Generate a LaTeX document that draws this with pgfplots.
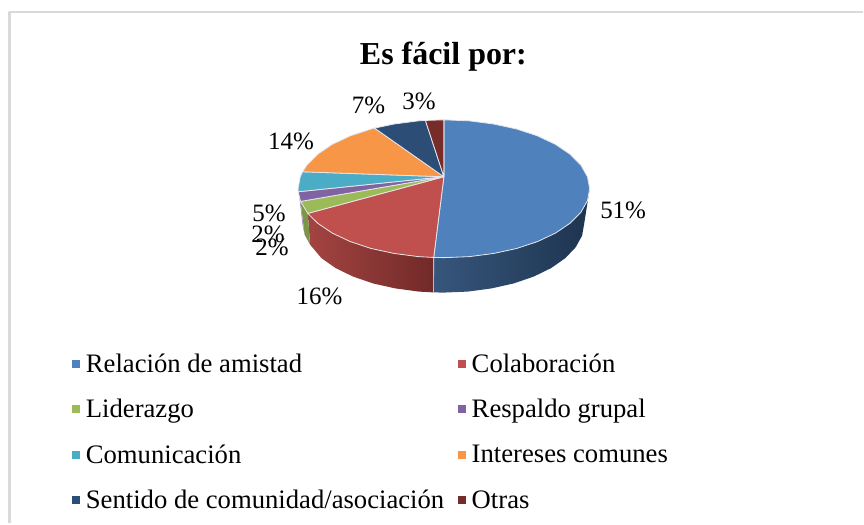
\documentclass[border=0pt]{standalone}
\usepackage{fontspec}
\setmainfont{Liberation Serif}
\usepackage{pgfplots}
\pgfplotsset{compat=1.18}
\definecolor{cBlue}{HTML}{4F81BD}
\definecolor{cRed}{HTML}{C0504D}
\definecolor{cGreen}{HTML}{9BBB59}
\definecolor{cPurple}{HTML}{8064A2}
\definecolor{cTeal}{HTML}{4BACC6}
\definecolor{cOrange}{HTML}{F79646}
\definecolor{cNavy}{HTML}{2C4D75}
\definecolor{cDark}{HTML}{772C2A}
\definecolor{rimc}{HTML}{E6E6EC}
\begin{document}
\begin{tikzpicture}
\path (0,0) rectangle (864pt,524pt);
\begin{axis}[
  at={(0,0)},anchor=south west,
  scale only axis, width=864pt, height=524pt,
  xmin=0, xmax=864, ymin=0, ymax=524, y dir=reverse,
  hide axis, clip=false,
  legend columns=2,
  legend cell align=left,
  legend style={at={(axis cs:72,352)},anchor=north west,draw=none,fill=none,
    font=\fontsize{26.7}{26.7}\selectfont, row sep=21.6pt,
    inner sep=0pt, outer sep=0pt,
    /tikz/every even column/.append style={column sep=11.5pt}},
  legend image code/.code={\path[draw=none,fill=none] (0pt,-4pt) rectangle (12pt,4pt);\path[#1,draw=none] (0pt,-4pt) rectangle (8pt,4pt);},
  every axis plot/.append style={line join=round},
]
% frame
\addplot[forget plot,draw=black!15,line width=2.4pt] coordinates {(9.5,524) (9.5,12) (864,12)};
% sides
\addplot[forget plot,draw=none,left color=cNavy!95!white,middle color=cNavy!68!black,right color=cNavy!68!black] coordinates {
 (590.5,189) (588.3,201) (581.7,212.6) (570.9,223.5) (556.3,233.4) (538.3,241.9) (517.5,248.8) (494.4,253.8) (469.8,257) (444.5,258) (434.3,257.8)
 (434.2,292.8) (444,293) (468.5,292) (492.2,288.8) (514.5,283.8) (534.6,276.9) (552,268.4) (566.1,258.5) (576.5,247.6) (582.9,236) (585,224) (590.5,189)};
\addplot[forget plot,draw=none,left color=cRed!85!black,right color=cDark!95!black] coordinates {
 (308.2,213.7) (318.1,223.5) (332.7,233.4) (350.7,241.9) (371.5,248.8) (394.6,253.8) (419.2,257) (434.3,257.8)
 (434.2,292.8) (419.5,292) (395.8,288.8) (373.5,283.8) (353.4,276.9) (336,268.4) (321.9,258.5) (310.5,245) (308.2,213.7)};
\addplot[forget plot,draw=none,fill=cGreen!80!black] coordinates {(301,201.7) (308.2,213.7) (310.5,245) (305,235) (301,201.7)};
\addplot[forget plot,draw=none,fill=cPurple!65!white] coordinates {(299.5,196) (301,201.7) (305,235) (303,226) (299.5,196)};
% front seam
\addplot[forget plot,draw=rimc,line width=.7pt] coordinates {(434.3,257.8) (434.2,292.8)};
% top faces, one per series
\addplot[draw=rimc,line width=.8pt,fill=cBlue] coordinates {
 (444.5,177) (444.5,120) (469.8,121) (494.4,124.2) (517.5,129.2) (538.3,136.1) (556.3,144.6) (570.9,154.5) (581.7,165.4) (588.3,177) (590.5,189)
 (588.3,201) (581.7,212.6) (570.9,223.5) (556.3,233.4) (538.3,241.9) (517.5,248.8) (494.4,253.8) (469.8,257) (444.5,258) (434.3,257.8) (444.5,177)};
\addlegendentry{Relación de amistad}
\addplot[draw=rimc,line width=.8pt,fill=cRed] coordinates {
 (444.5,177) (434.3,257.8) (419.2,257) (394.6,253.8) (371.5,248.8) (350.7,241.9) (332.7,233.4) (318.1,223.5) (308.2,213.7) (444.5,177)};
\addlegendentry{Colaboración}
\addplot[draw=rimc,line width=.8pt,fill=cGreen] coordinates {
 (444.5,177) (308.2,213.7) (301,201.7) (444.5,177)};
\addlegendentry{Liderazgo}
\addplot[draw=rimc,line width=.8pt,fill=cPurple] coordinates {
 (444.5,177) (301,201.7) (298.6,192) (444.5,177)};
\addlegendentry{Respaldo grupal}
\addplot[draw=rimc,line width=.8pt,fill=cTeal] coordinates {
 (444.5,177) (298.6,192) (298.5,189) (300.7,177) (303,172) (444.5,177)};
\addlegendentry{Comunicación}
\addplot[draw=rimc,line width=.8pt,fill=cOrange] coordinates {
 (444.5,177) (303,172) (307.3,165.4) (318.1,154.5) (332.7,144.6) (350.7,136.1) (371.5,129.2) (375.1,128.3) (444.5,177)};
\addlegendentry{Intereses comunes}
\addplot[draw=rimc,line width=.8pt,fill=cNavy] coordinates {
 (444.5,177) (375.1,128.3) (394.6,124.2) (419.2,121) (426,120.6) (444.5,177)};
\addlegendentry{Sentido de comunidad/asociación}
\addplot[draw=rimc,line width=.8pt,fill=cDark] coordinates {
 (444.5,177) (426,120.6) (444.5,120) (444.5,177)};
\addlegendentry{Otras}
% texts
\node[font=\fontsize{32}{32}\selectfont\bfseries] at (axis cs:444,56.5) {Es fácil por:};
\foreach \x/\y/\t in {624/211/51\%,320/297/16\%,291.5/142/14\%,369/106/7\%,419.5/102/3\%,269.5/214/5\%,268.5/235/2\%,272.5/248/2\%}{
  \edef\temp{\noexpand\node[font=\noexpand\fontsize{25}{25}\noexpand\selectfont] at (axis cs:\x,\y) {\t};}
  \temp
}
\end{axis}
\end{tikzpicture}
\end{document}
